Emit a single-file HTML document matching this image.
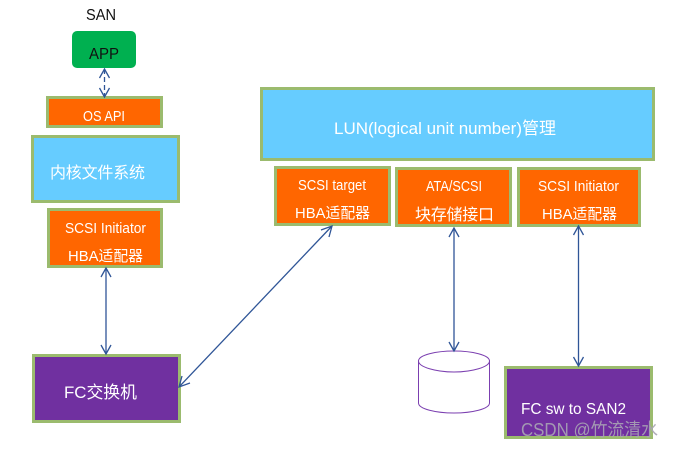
<!DOCTYPE html>
<html><head><meta charset="utf-8"><style>
html,body{margin:0;padding:0;background:#fff;width:674px;height:449px;overflow:hidden}
svg{display:block}
text{font-family:"Liberation Sans","Noto Sans CJK SC",sans-serif;fill:#fff;font-size:14px}
.b{fill:#66ccff}.o{fill:#ff6600}.p{fill:#7030a0}
.r{stroke:#9bbb6e;stroke-width:3}
.l{fill:none;stroke:#2f5597;stroke-width:1.3}
</style></head><body>
<svg width="674" height="449" viewBox="0 0 674 449" xmlns="http://www.w3.org/2000/svg">
<text x="86" y="20" style="fill:#111;font-size:16px" textLength="30" lengthAdjust="spacingAndGlyphs">SAN</text>
<rect x="72" y="31" width="64" height="37" rx="5" fill="#00b050"/>
<text x="89" y="59" style="fill:#111;font-size:16px" textLength="30" lengthAdjust="spacingAndGlyphs">APP</text>

<rect class="o r" x="47.500" y="97.500" width="114" height="29"/>
<text x="83" y="121" style="font-size:15px" textLength="42" lengthAdjust="spacingAndGlyphs">OS API</text>

<rect class="b r" x="32.500" y="136.500" width="146" height="65"/>
<text x="50" y="178" style="font-size:16px" textLength="95">内核文件系统</text>

<rect class="o r" x="48.500" y="209.500" width="113" height="57"/>
<text x="65" y="233" style="font-size:15px" textLength="81" lengthAdjust="spacingAndGlyphs">SCSI Initiator</text>
<text x="68" y="261" style="font-size:15px" textLength="75" lengthAdjust="spacingAndGlyphs">HBA适配器</text>

<rect class="p r" x="33.500" y="355.500" width="146" height="66"/>
<text x="64" y="398" style="font-size:17px" textLength="73" lengthAdjust="spacingAndGlyphs">FC交换机</text>

<rect class="b r" x="261.500" y="88.500" width="392" height="71"/>
<text x="334" y="134" style="font-size:17px" textLength="222" lengthAdjust="spacingAndGlyphs">LUN(logical unit number)管理</text>

<rect class="o r" x="275.500" y="167.500" width="114" height="57"/>
<text x="298" y="190" style="font-size:15px" textLength="68" lengthAdjust="spacingAndGlyphs">SCSI target</text>
<text x="295" y="218" style="font-size:15px" textLength="75" lengthAdjust="spacingAndGlyphs">HBA适配器</text>

<rect class="o r" x="396.500" y="168.500" width="114" height="57"/>
<text x="426" y="191" style="font-size:15px" textLength="56" lengthAdjust="spacingAndGlyphs">ATA/SCSI</text>
<text x="415" y="220" style="font-size:16px" textLength="79">块存储接口</text>

<rect class="o r" x="518.500" y="168.500" width="121" height="57"/>
<text x="538" y="191" style="font-size:15px" textLength="81" lengthAdjust="spacingAndGlyphs">SCSI Initiator</text>
<text x="542" y="219" style="font-size:15px" textLength="75" lengthAdjust="spacingAndGlyphs">HBA适配器</text>

<rect class="p r" x="505.500" y="367.500" width="146" height="70"/>
<text x="521" y="414" style="font-size:16px" textLength="105" lengthAdjust="spacingAndGlyphs">FC sw to SAN2</text>

<!-- cylinder -->
<path d="M418.500 361C418.500 355 436 351 454 351C472 351 489.500 355 489.500 361V403C489.500 409 472 413 454 413C436 413 418.500 409 418.500 403Z" fill="#fff" stroke="#7b3fb0" stroke-width="1"/>
<path d="M418.500 361C418.500 367 436 372 454 372C472 372 489.500 367 489.500 361" fill="none" stroke="#7b3fb0" stroke-width="1"/>

<!-- connectors -->
<path class="l" stroke-dasharray="5 3" d="M104.500 69V96"/>
<path class="l" d="M99.500 78L104.500 69L109.500 78M99.500 88L104.500 97L109.500 88"/>

<path class="l" d="M106 268V354"/>
<path class="l" d="M101 277L106 268L111 277M101 345L106 354L111 345"/>

<path class="l" d="M332 226L179 387"/>
<path class="l" d="M321 230L332 226L329 237M182 376L179 387L190 383"/>

<path class="l" d="M454 228V351"/>
<path class="l" d="M449 237L454 228L459 237M449 342L454 351L459 342"/>

<path class="l" d="M578.500 226V366"/>
<path class="l" d="M573.500 235L578.500 226L583.500 235M573.500 357L578.500 366L583.500 357"/>

<text x="521" y="436" style="font-size:18px;fill:#a9a4b4;fill-opacity:.9" textLength="137" lengthAdjust="spacingAndGlyphs">CSDN @竹流清水</text>
</svg>
</body></html>
